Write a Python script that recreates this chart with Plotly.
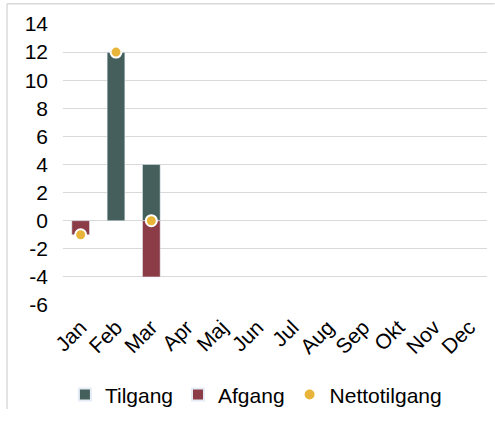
import plotly.graph_objects as go

months = ["Jan", "Feb", "Mar", "Apr", "Maj", "Jun", "Jul", "Aug", "Sep", "Okt", "Nov", "Dec"]
tilgang = [0, 12, 4]
afgang = [-1, 0, -4]
netto = [-1, 12, 0]
y_ticks = [-6, -4, -2, 0, 2, 4, 6, 8, 10, 12, 14]
y_ticktext = ["-6", "-4", "-2", "0", "2", "4", "6", "8", "10", "12", "14"]

font = "Liberation Sans"

fig = go.Figure()
fig.add_trace(go.Bar(x=months[:3], y=tilgang, name="Tilgang", marker_color="#45605C", width=0.5))
fig.add_trace(go.Bar(x=months[:3], y=afgang, name="Afgang", marker_color="#8B3C47", width=0.5))
fig.add_trace(go.Scatter(x=months[:3], y=netto, name="Nettotilgang", mode="markers",
                         marker=dict(color="#E8B53A", size=11, line=dict(color="white", width=2))))

border = dict(color="#D9D9D9", width=1.5)
fig.update_layout(
    barmode="relative",
    width=495, height=423,
    margin=dict(l=63, r=8, t=24, b=108),
    paper_bgcolor="white", plot_bgcolor="white",
    font=dict(family=font, size=21, color="#000000"),
    showlegend=True,
    legend=dict(orientation="h", x=0.455, xanchor="center", y=-0.32, yanchor="middle",
                font=dict(size=21), itemsizing="constant", itemwidth=30,
                tracegroupgap=0),
    xaxis=dict(categoryorder="array", categoryarray=months, range=[-0.5, 11.5],
               tickangle=-45, showgrid=False, zeroline=False, showline=False,
               tickfont=dict(size=21), automargin=False, ticklabelstandoff=5),
    yaxis=dict(range=[-6, 14], tickvals=y_ticks, ticktext=y_ticktext, showgrid=True,
               gridcolor="#D9D9D9", gridwidth=1, automargin=False,
               zeroline=False, showline=False, tickfont=dict(size=21), ticks="",
               ticklabelstandoff=14),
    shapes=[
        dict(type="line", xref="paper", yref="paper", x0=-0.1321, x1=-0.1321, y0=-0.37, y1=1.0722,
             line=border, layer="below"),
        dict(type="line", xref="paper", yref="paper", x0=-0.1321, x1=1.018, y0=1.0722, y1=1.0722,
             line=border, layer="below"),
    ],
)

fig.write_html("out.html", config={"displayModeBar": False},
               post_script="document.body.style.margin='0';document.body.style.overflow='hidden';")
